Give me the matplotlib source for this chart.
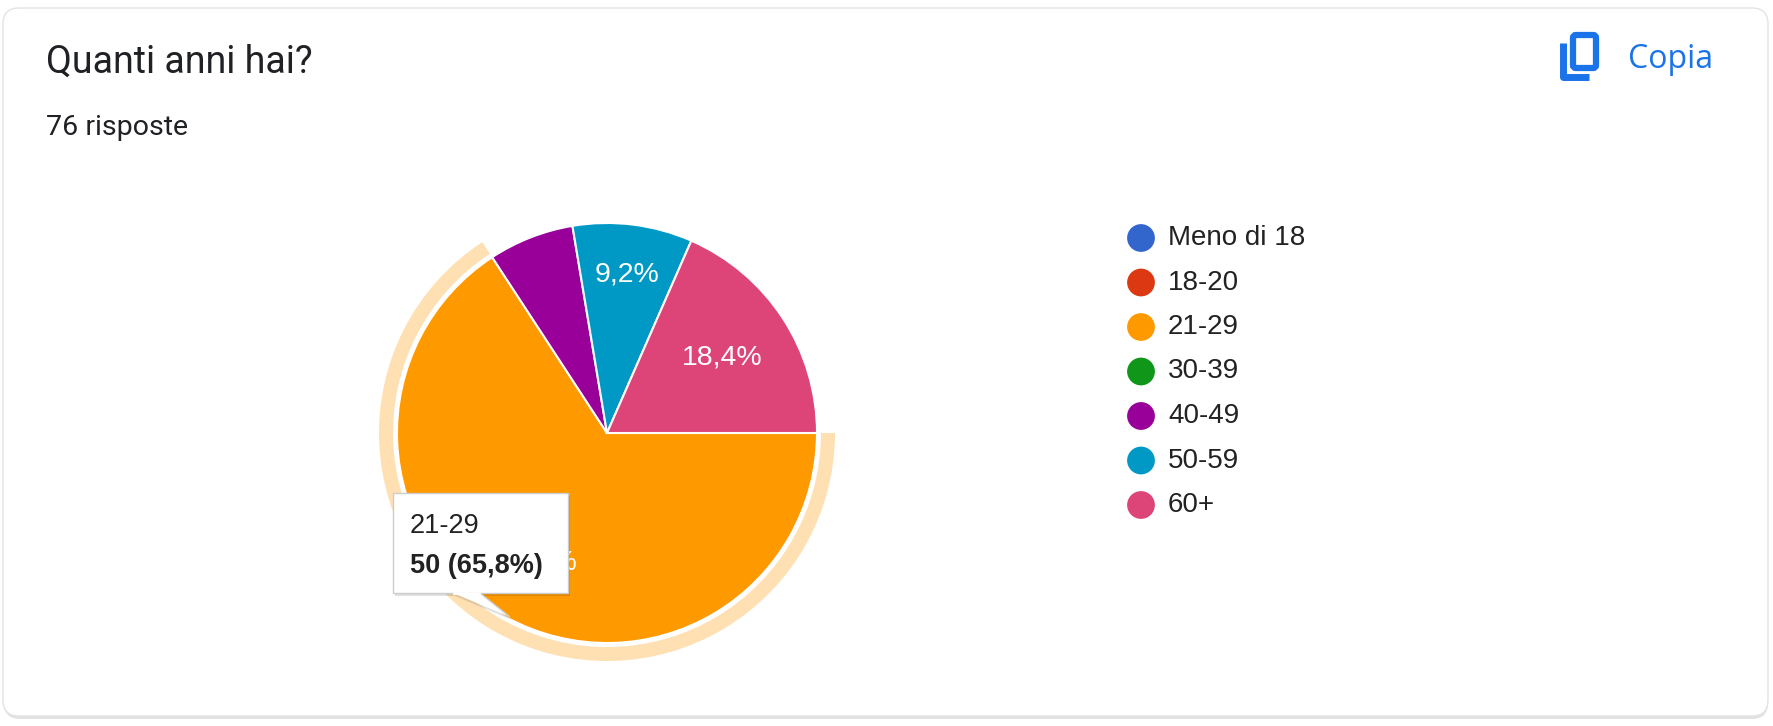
import numpy as np
import matplotlib.pyplot as plt
from matplotlib.patches import FancyBboxPatch, Wedge, Rectangle, Polygon

# dati del grafico
domanda = "Quanti anni hai?"
risposte = 76
fasce = ["Meno di 18", "18-20", "21-29", "30-39", "40-49", "50-59", "60+"]
conteggi = [0, 0, 50, 0, 5, 7, 14]
colori = ["#3366cc", "#dc3912", "#ff9900", "#109618", "#990099", "#0099c6", "#dd4477"]
evidenziata = "21-29"      # fetta sotto il mouse (tooltip)

W, H = 1773, 726
fig = plt.figure(figsize=(W / 100, H / 100), dpi=100)
fig.patch.set_facecolor("white")

# asse di sfondo in pixel (y verso il basso)
bg = fig.add_axes([0, 0, 1, 1], zorder=0)
bg.set_xlim(0, W)
bg.set_ylim(H, 0)
bg.axis("off")

# scheda con ombra
bg.add_patch(FancyBboxPatch((4, 11), 1764, 708, boxstyle="round,pad=0,rounding_size=16",
                            fc="#d0d0d0", ec="none", alpha=0.6))
bg.add_patch(FancyBboxPatch((3, 8), 1765, 708, boxstyle="round,pad=0,rounding_size=16",
                            fc="white", ec="#e3e3e3", lw=1))

bg.text(46, 73, domanda, fontsize=27, family="Roboto", color="#202124", va="baseline")
bg.text(46, 135, f"{risposte} risposte", fontsize=20.5, family="Roboto", color="#202124",
        va="baseline")

# pulsante Copia
blu = "#1a73e8"
bg.add_patch(FancyBboxPatch((1573, 35), 23, 33, boxstyle="round,pad=0,rounding_size=3",
                            fc="none", ec=blu, lw=4.5))
bg.plot([1563, 1563, 1589], [43, 77, 77], color=blu, lw=5, solid_capstyle="butt",
        solid_joinstyle="round")
bg.text(1628, 68, "Copia", fontsize=23, family="Open Sans", color=blu, va="baseline")

# legenda
for i, (f, c) in enumerate(zip(fasce, colori)):
    y = 238 + i * 44.5
    bg.scatter([1141], [y], s=(20) ** 2, color=c, edgecolors="none")
    bg.text(1168, y, f, fontsize=20, family="Liberation Sans", color="#222222", va="center")

# torta
R = 210
cx, cy = 607, 433
ax = fig.add_axes([(cx - 1.2 * R) / W, (H - cy - 1.2 * R) / H, 2.4 * R / W, 2.4 * R / H],
                  zorder=1)
idx = [i for i, v in enumerate(conteggi) if v > 0]
vals = [conteggi[i] for i in idx]
wedges, _ = ax.pie(vals, colors=[colori[i] for i in idx], startangle=0, counterclock=False,
                   wedgeprops=dict(edgecolor="white", linewidth=1.5))
ax.set_xlim(-1.2, 1.2)
ax.set_ylim(-1.2, 1.2)
ax.set_aspect("equal")
ax.axis("off")

tot = sum(conteggi)
dist = {"21-29": 0.7, "50-59": 0.76, "60+": 0.655}
for w, i in zip(wedges, idx):
    pct = conteggi[i] / tot * 100
    if pct < 8:
        continue
    a = np.deg2rad((w.theta1 + w.theta2) / 2)
    r = dist.get(fasce[i], 0.7)
    ax.text(r * np.cos(a), r * np.sin(a), f"{pct:.1f}%".replace(".", ","), fontsize=20.5,
            family="Liberation Sans", color="white", ha="center", va="center")

# alone attorno alla fetta evidenziata
k = idx.index(fasce.index(evidenziata))
wk = wedges[k]
ax.add_patch(Wedge((0, 0), 228 / R, wk.theta1, wk.theta2, width=14 / R, fc="#ffe0b2",
                   ec="none", zorder=0))

# tooltip
fg = fig.add_axes([0, 0, 1, 1], zorder=2)
fg.set_xlim(0, W)
fg.set_ylim(H, 0)
fg.axis("off")
x0, y0, x1, y1 = 393, 493, 568, 593
coda = [(453, y1), (480, y1), (510, 617)]
fg.add_patch(Rectangle((x0 + 2, y0 + 3), x1 - x0, y1 - y0, fc="#000000", alpha=0.12, ec="none"))
fg.add_patch(Polygon([(p[0] + 2, p[1] + 3) for p in coda], fc="#000000", alpha=0.12, ec="none"))
fg.add_patch(Rectangle((x0, y0), x1 - x0, y1 - y0, fc="white", ec="#cccccc", lw=1))
fg.add_patch(Polygon(coda, closed=False, fc="white", ec="#cccccc", lw=1))
fg.plot([454, 479], [y1, y1], color="white", lw=2)
n = conteggi[fasce.index(evidenziata)]
fg.text(410, 533, evidenziata, fontsize=19.5, family="Liberation Sans", color="#222222",
        va="baseline")
fg.text(410, 573, f"{n} ({n / tot * 100:.1f}%)".replace(".", ","), fontsize=19.5,
        family="Liberation Sans", weight="bold", color="#222222", va="baseline")

fig.savefig("out.png", dpi=100)
